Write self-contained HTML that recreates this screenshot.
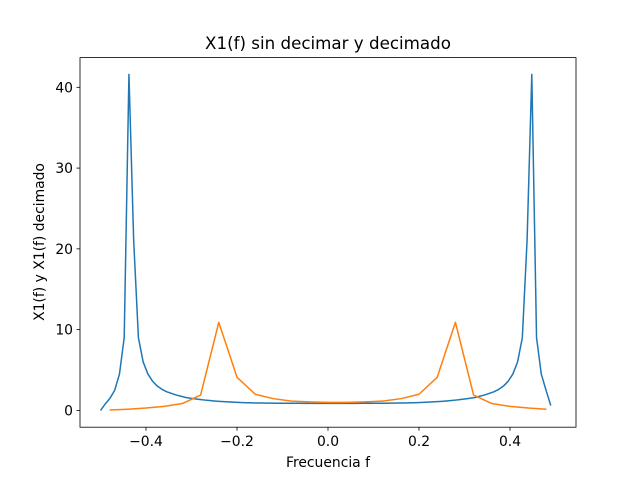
<!DOCTYPE html>
<html><head><meta charset="utf-8"><style>
body{margin:0;background:#fff}
svg text{font-family:"DejaVu Sans","Liberation Sans",sans-serif;fill:#000}
</style></head><body>
<svg id="chart" width="640" height="480" viewBox="0 0 640 480" xmlns="http://www.w3.org/2000/svg">
<rect width="640" height="480" fill="#fff"/>
<g id="plot"></g>
<rect x="80" y="57.6" width="496" height="369.6" fill="none" stroke="#000" stroke-width="0.8"/>
<text x="328" y="49" font-size="16.7" text-anchor="middle">X1(f) sin decimar y decimado</text>
<text x="328" y="467" font-size="13.9" text-anchor="middle">Frecuencia f</text>
<text transform="translate(44,242) rotate(-90)" font-size="13.9" text-anchor="middle">X1(f) y X1(f) decimado</text>
<g id="ticks"></g>
</svg>
<script>
const blueVals=[0,0.8,1.5,2.5,4.5,9,41.6,
21,9,6,4.5,3.6,3.0,2.6,2.3,2.1,1.9,1.75,1.6,1.5,1.42,1.35,1.28,1.22,1.17,1.12,1.08,1.05,1.02,1.0,0.97,0.95,0.93,0.92,0.91,0.9,0.9,0.89,0.89,0.88,0.88,0.88,0.88,0.87,0.87,0.87,0.87,0.87,0.87,
0.87,0.87,0.87,0.87,0.87,0.87,0.88,0.88,0.88,0.88,0.89,0.89,0.9,0.9,0.91,0.92,0.93,0.95,0.97,1.0,1.02,1.05,1.08,1.12,1.17,1.22,1.28,1.35,1.42,1.5,1.6,1.75,1.9,2.1,2.3,2.6,3.0,3.6,4.5,6,9,21,
41.6,9,4.5,2.5,0.6];
const blueStart=-0.5, blueStep=1/96;
const orangeVals=[0.05,0.15,0.3,0.5,0.85,1.9,10.9,4.1,2.0,1.45,1.15,1.05,1.0,1.0,1.05,1.15,1.45,2.0,4.1,10.9,1.9,0.85,0.5,0.3,0.15];
const orangeStart=-0.48, orangeStep=0.04;
const xTicks=[-0.4,-0.2,0,0.2,0.4];
const xTickLabels=["\u22120.4","\u22120.2","0.0","0.2","0.4"];
const yTicks=[0,10,20,30,40];
const yTickLabels=["0","10","20","30","40"];

const NS="http://www.w3.org/2000/svg";
function xs(f){return 328+f*455;}
function ys(v){return 410.4-v*8.077;}
const plot=document.getElementById('plot');
function line(vals,start,step,color,name){
  const pts=vals.map((v,i)=>xs(start+i*step).toFixed(2)+","+ys(v).toFixed(2)).join(" ");
  const p=document.createElementNS(NS,"polyline");
  p.setAttribute("points",pts);p.setAttribute("fill","none");
  p.setAttribute("stroke",color);p.setAttribute("stroke-width","1.5");
  p.setAttribute("stroke-linejoin","round");
  
  
  plot.appendChild(p);
}
line(blueVals,blueStart,blueStep,"#1f77b4","series-sin-decimar");
line(orangeVals,orangeStart,orangeStep,"#ff7f0e","series-decimado");
const tg=document.getElementById('ticks');
xTicks.forEach((t,i)=>{
  const x=xs(t);
  const l=document.createElementNS(NS,"line");
  l.setAttribute("x1",x);l.setAttribute("x2",x);l.setAttribute("y1",427.2);l.setAttribute("y2",430.7);
  l.setAttribute("stroke","#000");l.setAttribute("stroke-width","0.8");
  
  
  tg.appendChild(l);
  const tx=document.createElementNS(NS,"text");
  tx.setAttribute("x",x);tx.setAttribute("y",446);tx.setAttribute("font-size","13.9");tx.setAttribute("text-anchor","middle");
  tx.textContent=xTickLabels[i];
  
  
  tg.appendChild(tx);
});
yTicks.forEach((t,i)=>{
  const y=ys(t);
  const l=document.createElementNS(NS,"line");
  l.setAttribute("x1",76.5);l.setAttribute("x2",80);l.setAttribute("y1",y);l.setAttribute("y2",y);
  l.setAttribute("stroke","#000");l.setAttribute("stroke-width","0.8");
  
  
  tg.appendChild(l);
  const tx=document.createElementNS(NS,"text");
  tx.setAttribute("x",73);tx.setAttribute("y",y+5);tx.setAttribute("font-size","13.9");tx.setAttribute("text-anchor","end");
  tx.textContent=yTickLabels[i];
  
  
  tg.appendChild(tx);
});
</script>
</body></html>
